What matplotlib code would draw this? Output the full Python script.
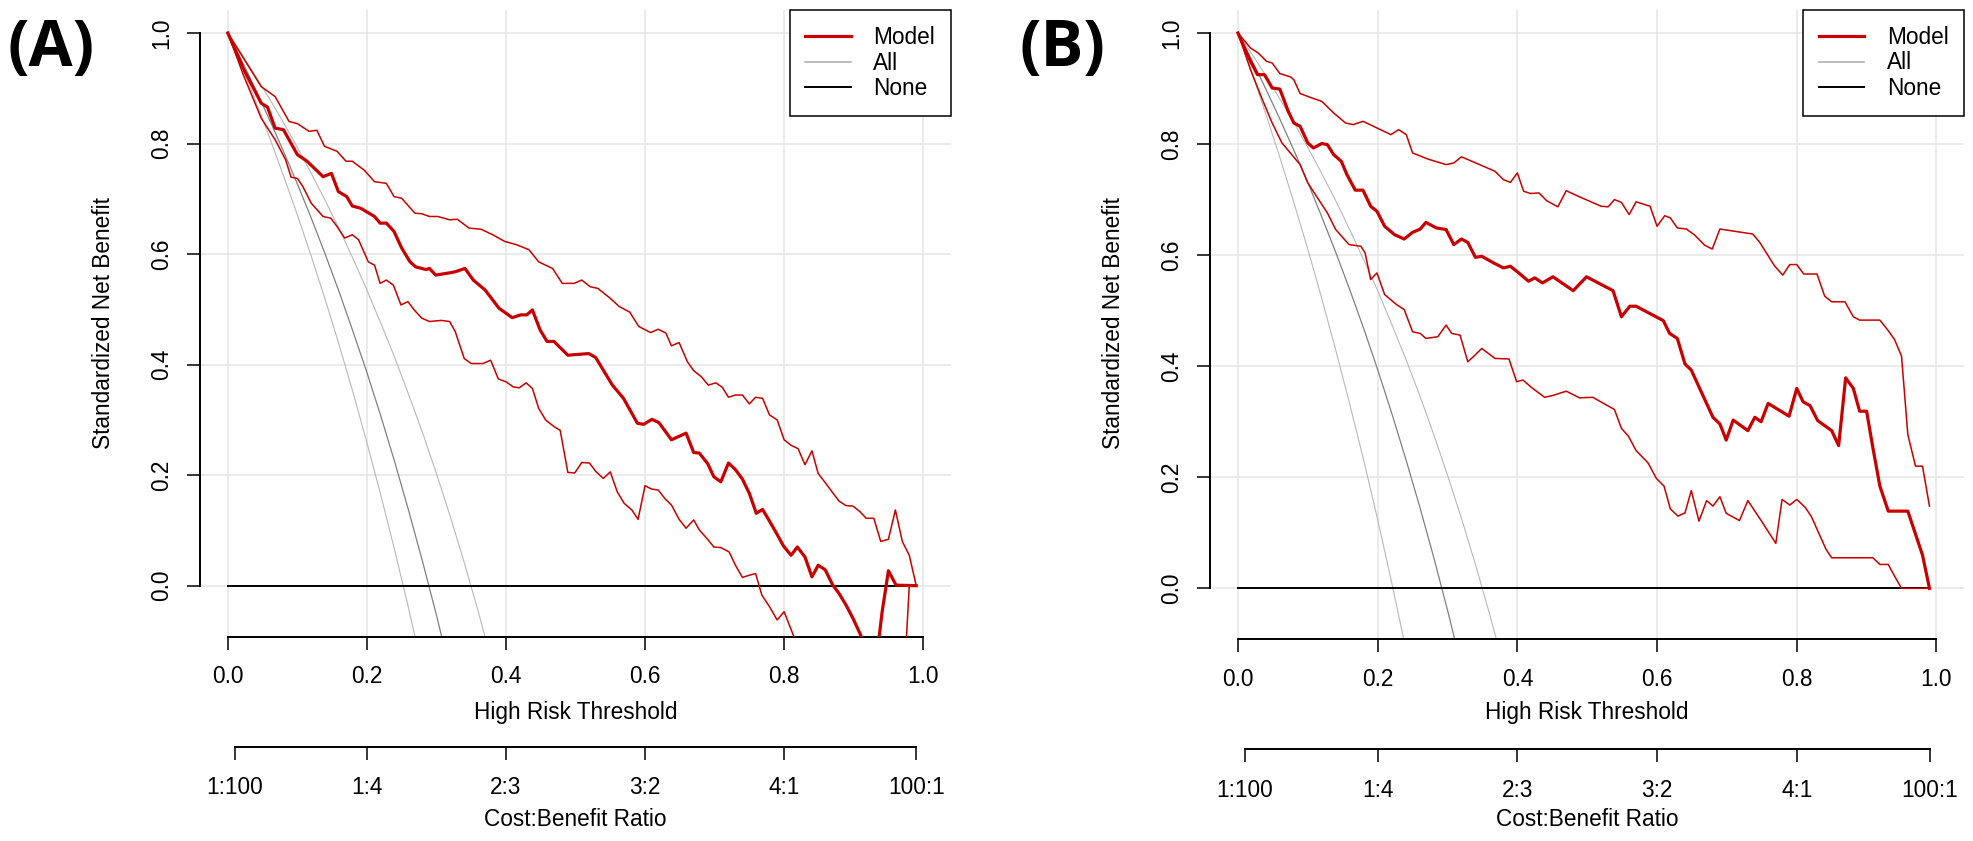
import matplotlib
matplotlib.use("Agg")
import matplotlib.pyplot as plt
from matplotlib.lines import Line2D

plt.rcParams['font.family'] = ['Liberation Sans', 'DejaVu Sans']

# ---------------- data ----------------
# Panel A
a_model_t = [0, 0.023, 0.048, 0.057, 0.068, 0.080, 0.100, 0.114, 0.137, 0.149, 0.159, 0.171, 0.179, 0.191,
             0.211, 0.219, 0.228, 0.239, 0.250, 0.262, 0.270, 0.285, 0.290, 0.299, 0.319, 0.327, 0.341, 0.353,
             0.370, 0.390, 0.409, 0.421, 0.430, 0.438, 0.449, 0.459, 0.469, 0.489, 0.519, 0.529, 0.553, 0.569,
             0.589, 0.598, 0.610, 0.620, 0.638, 0.659, 0.670, 0.678, 0.690, 0.699, 0.709, 0.720, 0.730, 0.740,
             0.750, 0.760, 0.769, 0.778, 0.789, 0.799, 0.810, 0.819, 0.830, 0.840, 0.849, 0.859, 0.870, 0.879,
             0.889, 0.899, 0.910, 0.920, 0.930, 0.937, 0.941, 0.950, 0.961, 0.990]
a_model_v = [1.0, 0.934, 0.873, 0.866, 0.828, 0.825, 0.780, 0.768, 0.740, 0.746, 0.713, 0.704, 0.687, 0.683,
             0.668, 0.656, 0.656, 0.641, 0.611, 0.586, 0.577, 0.572, 0.574, 0.562, 0.566, 0.568, 0.574, 0.553,
             0.535, 0.502, 0.485, 0.490, 0.490, 0.499, 0.463, 0.442, 0.442, 0.417, 0.420, 0.413, 0.363, 0.339,
             0.294, 0.292, 0.301, 0.295, 0.264, 0.276, 0.241, 0.240, 0.221, 0.197, 0.188, 0.222, 0.210, 0.193,
             0.167, 0.131, 0.138, 0.119, 0.095, 0.072, 0.055, 0.070, 0.052, 0.016, 0.037, 0.029, 0.001, -0.014,
             -0.035, -0.059, -0.089, -0.130, -0.120, -0.089, -0.047, 0.027, 0.001, 0.0]

a_upper_t = [0, 0.048, 0.068, 0.088, 0.100, 0.117, 0.128, 0.139, 0.157, 0.170, 0.179, 0.196, 0.211, 0.228,
             0.239, 0.250, 0.269, 0.279, 0.290, 0.302, 0.319, 0.330, 0.347, 0.364, 0.381, 0.398, 0.415, 0.433,
             0.447, 0.467, 0.481, 0.498, 0.509, 0.521, 0.532, 0.549, 0.563, 0.578, 0.591, 0.608, 0.619, 0.630,
             0.638, 0.649, 0.661, 0.670, 0.681, 0.691, 0.702, 0.711, 0.720, 0.730, 0.740, 0.750, 0.759, 0.769,
             0.779, 0.790, 0.800, 0.810, 0.820, 0.830, 0.840, 0.849, 0.860, 0.870, 0.879, 0.889, 0.899, 0.909,
             0.918, 0.929, 0.939, 0.950, 0.960, 0.970, 0.980, 0.990]
a_upper_v = [1.0, 0.903, 0.885, 0.840, 0.836, 0.822, 0.824, 0.795, 0.786, 0.768, 0.768, 0.752, 0.731, 0.728,
             0.704, 0.701, 0.674, 0.673, 0.668, 0.668, 0.662, 0.663, 0.647, 0.645, 0.635, 0.623, 0.617, 0.608,
             0.586, 0.574, 0.547, 0.547, 0.553, 0.541, 0.538, 0.521, 0.505, 0.495, 0.469, 0.458, 0.464, 0.457,
             0.434, 0.440, 0.405, 0.389, 0.378, 0.363, 0.367, 0.359, 0.341, 0.345, 0.345, 0.329, 0.341, 0.339,
             0.309, 0.300, 0.264, 0.254, 0.248, 0.219, 0.244, 0.203, 0.185, 0.168, 0.153, 0.145, 0.144, 0.134,
             0.122, 0.122, 0.080, 0.084, 0.137, 0.080, 0.055, 0.0]

a_lower_t = [0, 0.023, 0.048, 0.068, 0.083, 0.091, 0.100, 0.108, 0.120, 0.137, 0.148, 0.157, 0.168, 0.179,
             0.188, 0.202, 0.211, 0.219, 0.228, 0.238, 0.249, 0.259, 0.268, 0.279, 0.290, 0.307, 0.319, 0.327,
             0.340, 0.350, 0.367, 0.378, 0.389, 0.400, 0.410, 0.419, 0.429, 0.438, 0.447, 0.457, 0.469, 0.478,
             0.489, 0.499, 0.509, 0.520, 0.529, 0.540, 0.550, 0.560, 0.570, 0.581, 0.590, 0.600, 0.609, 0.619,
             0.629, 0.638, 0.649, 0.659, 0.670, 0.678, 0.690, 0.699, 0.709, 0.721, 0.730, 0.740, 0.750, 0.759,
             0.768, 0.779, 0.790, 0.800, 0.814, 0.830, 0.850, 0.900, 0.950, 0.976, 0.980, 0.990]
a_lower_v = [1.0, 0.922, 0.846, 0.807, 0.771, 0.739, 0.737, 0.722, 0.692, 0.668, 0.665, 0.650, 0.629, 0.635,
             0.626, 0.586, 0.580, 0.547, 0.553, 0.544, 0.508, 0.514, 0.499, 0.484, 0.478, 0.480, 0.478, 0.460,
             0.411, 0.402, 0.402, 0.408, 0.374, 0.369, 0.360, 0.358, 0.367, 0.357, 0.321, 0.300, 0.288, 0.281,
             0.205, 0.204, 0.223, 0.222, 0.207, 0.194, 0.206, 0.170, 0.149, 0.137, 0.120, 0.181, 0.175, 0.173,
             0.157, 0.146, 0.120, 0.104, 0.119, 0.101, 0.084, 0.070, 0.069, 0.061, 0.037, 0.015, 0.019, 0.022,
             -0.017, -0.038, -0.062, -0.047, -0.092, -0.130, -0.170, -0.220, -0.200, -0.092, 0.0, 0.0]

all_t = [0, 0.02, 0.04, 0.06, 0.08, 0.10, 0.12, 0.14, 0.16, 0.18, 0.20, 0.22, 0.24, 0.26, 0.28, 0.30,
         0.32, 0.34, 0.36, 0.38]
a_all_v = [1.0, 0.950, 0.898, 0.843, 0.786, 0.727, 0.665, 0.600, 0.532, 0.460, 0.386, 0.307, 0.224,
           0.136, 0.044, -0.053, -0.157, -0.27, -0.38, -0.51]
a_all_lo_v = [1.0, 0.940, 0.877, 0.811, 0.742, 0.671, 0.596, 0.518, 0.436, 0.350, 0.259, 0.164, 0.064,
              -0.041, -0.152, -0.27, -0.39, -0.53, -0.67, -0.82]
a_all_hi_v = [1.0, 0.962, 0.922, 0.881, 0.838, 0.793, 0.746, 0.697, 0.646, 0.592, 0.535, 0.475, 0.413,
              0.346, 0.277, 0.203, 0.125, 0.042, -0.046, -0.140]

# Panel B
b_model_t = [0, 0.018, 0.028, 0.038, 0.049, 0.060, 0.072, 0.080, 0.089, 0.100, 0.108, 0.120, 0.128, 0.137,
             0.148, 0.156, 0.168, 0.179, 0.190, 0.199, 0.210, 0.224, 0.238, 0.250, 0.261, 0.269, 0.284, 0.298,
             0.309, 0.320, 0.329, 0.340, 0.349, 0.366, 0.380, 0.390, 0.402, 0.416, 0.425, 0.436, 0.451, 0.480,
             0.499, 0.537, 0.549, 0.561, 0.570, 0.609, 0.618, 0.629, 0.640, 0.649, 0.680, 0.690, 0.699, 0.709,
             0.730, 0.740, 0.749, 0.759, 0.789, 0.800, 0.809, 0.819, 0.830, 0.850, 0.860, 0.870, 0.881, 0.890,
             0.900, 0.909, 0.919, 0.931, 0.959, 0.980, 0.990]
b_model_v = [1.0, 0.949, 0.925, 0.925, 0.901, 0.899, 0.859, 0.838, 0.832, 0.802, 0.793, 0.801, 0.799, 0.781,
             0.769, 0.745, 0.717, 0.717, 0.688, 0.679, 0.652, 0.637, 0.629, 0.641, 0.647, 0.659, 0.649, 0.646,
             0.619, 0.629, 0.623, 0.596, 0.598, 0.586, 0.577, 0.580, 0.568, 0.553, 0.559, 0.550, 0.561, 0.536,
             0.561, 0.536, 0.489, 0.508, 0.508, 0.482, 0.459, 0.450, 0.404, 0.393, 0.308, 0.296, 0.267, 0.303,
             0.284, 0.308, 0.300, 0.333, 0.310, 0.360, 0.336, 0.329, 0.302, 0.284, 0.257, 0.379, 0.360, 0.319,
             0.319, 0.253, 0.184, 0.139, 0.139, 0.060, 0.0]

b_upper_t = [0, 0.018, 0.029, 0.041, 0.049, 0.060, 0.075, 0.080, 0.089, 0.106, 0.120, 0.137, 0.154, 0.165,
             0.179, 0.199, 0.219, 0.230, 0.241, 0.250, 0.272, 0.298, 0.309, 0.320, 0.346, 0.368, 0.380, 0.390,
             0.400, 0.409, 0.419, 0.431, 0.442, 0.458, 0.470, 0.489, 0.520, 0.530, 0.539, 0.549, 0.560, 0.570,
             0.590, 0.600, 0.611, 0.619, 0.629, 0.642, 0.654, 0.668, 0.679, 0.690, 0.737, 0.747, 0.768, 0.780,
             0.790, 0.800, 0.810, 0.829, 0.840, 0.850, 0.869, 0.881, 0.890, 0.919, 0.931, 0.940, 0.950, 0.959,
             0.970, 0.980, 0.990]
b_upper_v = [1.0, 0.973, 0.964, 0.949, 0.946, 0.927, 0.921, 0.916, 0.891, 0.883, 0.877, 0.856, 0.838, 0.835,
             0.841, 0.829, 0.817, 0.826, 0.817, 0.784, 0.773, 0.763, 0.766, 0.777, 0.763, 0.751, 0.736, 0.731,
             0.748, 0.715, 0.711, 0.712, 0.698, 0.687, 0.716, 0.705, 0.688, 0.687, 0.700, 0.695, 0.673, 0.696,
             0.688, 0.652, 0.671, 0.667, 0.649, 0.647, 0.636, 0.618, 0.611, 0.647, 0.638, 0.623, 0.581, 0.564,
             0.583, 0.583, 0.566, 0.566, 0.526, 0.516, 0.516, 0.489, 0.483, 0.483, 0.464, 0.448, 0.418, 0.277,
             0.220, 0.220, 0.148]

b_lower_t = [0, 0.018, 0.035, 0.049, 0.063, 0.077, 0.089, 0.100, 0.114, 0.128, 0.140, 0.159, 0.176, 0.182,
             0.190, 0.199, 0.210, 0.227, 0.238, 0.250, 0.261, 0.269, 0.286, 0.298, 0.306, 0.318, 0.329, 0.337,
             0.349, 0.368, 0.388, 0.399, 0.408, 0.422, 0.439, 0.450, 0.470, 0.489, 0.508, 0.539, 0.549, 0.559,
             0.570, 0.587, 0.599, 0.610, 0.619, 0.630, 0.640, 0.649, 0.660, 0.671, 0.680, 0.690, 0.699, 0.718,
             0.730, 0.749, 0.770, 0.779, 0.790, 0.800, 0.812, 0.821, 0.832, 0.842, 0.850, 0.909, 0.919, 0.931,
             0.940, 0.950, 0.990]
b_lower_v = [1.0, 0.934, 0.880, 0.838, 0.802, 0.781, 0.763, 0.730, 0.703, 0.676, 0.646, 0.619, 0.616, 0.604,
             0.556, 0.568, 0.529, 0.511, 0.502, 0.462, 0.459, 0.450, 0.453, 0.474, 0.459, 0.456, 0.408, 0.417,
             0.432, 0.414, 0.413, 0.372, 0.375, 0.360, 0.344, 0.347, 0.355, 0.343, 0.344, 0.322, 0.288, 0.274,
             0.248, 0.226, 0.198, 0.184, 0.143, 0.130, 0.136, 0.176, 0.121, 0.158, 0.148, 0.165, 0.135, 0.122,
             0.158, 0.122, 0.081, 0.160, 0.150, 0.160, 0.146, 0.129, 0.098, 0.070, 0.055, 0.055, 0.043, 0.043,
             0.022, 0.0, 0.0]

b_all_v = [1.0, 0.951, 0.899, 0.845, 0.789, 0.731, 0.669, 0.605, 0.538, 0.468, 0.394, 0.316, 0.234,
           0.148, 0.057, -0.039, -0.141, -0.25, -0.36, -0.49]
b_all_lo_v = [1.0, 0.928, 0.854, 0.776, 0.695, 0.611, 0.522, 0.429, 0.332, 0.231, 0.124, 0.011, -0.107,
              -0.23, -0.36, -0.50, -0.65, -0.80, -0.97, -1.15]
b_all_hi_v = [1.0, 0.962, 0.923, 0.881, 0.839, 0.794, 0.747, 0.698, 0.646, 0.592, 0.536, 0.476, 0.414,
              0.348, 0.278, 0.204, 0.126, 0.043, -0.045, -0.138]

none_t = [0.0, 0.99]
none_v = [0.0, 0.0]

x_ticks = [0.0, 0.2, 0.4, 0.6, 0.8, 1.0]
x_ticklabels = ["0.0", "0.2", "0.4", "0.6", "0.8", "1.0"]
y_ticks = [0.0, 0.2, 0.4, 0.6, 0.8, 1.0]
y_ticklabels = ["0.0", "0.2", "0.4", "0.6", "0.8", "1.0"]
cb_ticks = [1 / 101, 0.2, 0.4, 0.6, 0.8, 100 / 101]
cb_labels = ["1:100", "1:4", "2:3", "3:2", "4:1", "100:1"]
legend_labels = ["Model", "All", "None"]
panel_labels = ["(A)", "(B)"]

# ---------------- styling ----------------
W, H = 1974, 841
RED = '#C80000'
GRID = '#E5E5E5'
FS = 16.3

fig = plt.figure(figsize=(W / 100, H / 100), dpi=100)


def rect(left, right, top, bottom):
    return [left / W, 1 - bottom / H, (right - left) / W, (bottom - top) / H]


panels = [
    dict(rect=rect(200, 951, 10, 637), ylim=(-0.0928, 1.0416), label_x=8, ylab_x=104, xc=575.5,
         model=(a_model_t, a_model_v), upper=(a_upper_t, a_upper_v), lower=(a_lower_t, a_lower_v),
         allc=a_all_v, alllo=a_all_lo_v, allhi=a_all_hi_v),
    dict(rect=rect(1210, 1964.4, 9.9, 639.3), ylim=(-0.0918, 1.0416), label_x=1019, ylab_x=1114, xc=1587,
         model=(b_model_t, b_model_v), upper=(b_upper_t, b_upper_v), lower=(b_lower_t, b_lower_v),
         allc=b_all_v, alllo=b_all_lo_v, allhi=b_all_hi_v),
]

for i, p in enumerate(panels):
    ax = fig.add_axes(p['rect'])
    ax.set_xlim(-0.04, 1.04)
    ax.set_ylim(*p['ylim'])
    # grid
    for g in x_ticks:
        ax.axvline(g, color=GRID, lw=1.1, zorder=0)
    for g in y_ticks:
        ax.axhline(g, color=GRID, lw=1.1, zorder=0)
    # All curves
    ax.plot(all_t, p['alllo'], color='#b8b8b8', lw=0.8, zorder=2)
    ax.plot(all_t, p['allhi'], color='#b8b8b8', lw=0.8, zorder=2)
    ax.plot(all_t, p['allc'], color='#808080', lw=0.9, zorder=2)
    # None
    ax.plot(none_t, none_v, color='black', lw=1.4, zorder=3)
    # model and CI
    ax.plot(*p['upper'], color=RED, lw=1.1, zorder=4)
    ax.plot(*p['lower'], color=RED, lw=1.1, zorder=4)
    ax.plot(*p['model'], color=RED, lw=2.3, zorder=5)

    for s in ['top', 'right']:
        ax.spines[s].set_visible(False)
    ax.spines['left'].set_bounds(0, 1)
    ax.spines['bottom'].set_bounds(0, 1)
    for s in ['left', 'bottom']:
        ax.spines[s].set_linewidth(1.4)
    ax.set_xticks(x_ticks)
    ax.set_xticklabels(x_ticklabels)
    ax.set_yticks(y_ticks)
    ax.set_yticklabels(y_ticklabels)
    ax.tick_params(axis='both', direction='out', length=9.4, width=1.1, labelsize=FS)
    ax.tick_params(axis='x', pad=11.0)
    ax.tick_params(axis='y', pad=10.0, labelrotation=90)
    for lab in ax.get_yticklabels():
        lab.set_verticalalignment('center')

    sec = ax.secondary_xaxis(-0.175)
    sec.set_xticks(cb_ticks)
    sec.set_xticklabels(cb_labels)
    sec.spines['bottom'].set_bounds(cb_ticks[0], cb_ticks[-1])
    sec.spines['bottom'].set_linewidth(1.4)
    sec.tick_params(axis='x', direction='out', length=9.4, width=1.1, labelsize=FS, pad=12.0)

    handles = [Line2D([], [], color=RED, lw=2.3),
               Line2D([], [], color='#aaaaaa', lw=1.1),
               Line2D([], [], color='black', lw=1.4)]
    leg = ax.legend(handles, legend_labels, loc='upper right', bbox_to_anchor=(1.0, 1.0),
                    borderaxespad=0, fancybox=False, framealpha=1, edgecolor='black',
                    fontsize=FS, handlelength=2.0, handletextpad=1.0, labelspacing=0.12,
                    borderpad=0.7)
    leg.get_frame().set_linewidth(1.1)
    leg.set_zorder(10)

    fig.text(p['xc'] / W, 1 - 712 / H, "High Risk Threshold", ha='center', va='center', fontsize=FS)
    fig.text(p['xc'] / W, 1 - 820 / H, "Cost:Benefit Ratio", ha='center', va='center', fontsize=FS)
    fig.text(p['ylab_x'] / W, 1 - 323 / H, "Standardized Net Benefit", ha='center', va='center',
             rotation=90, fontsize=FS)
    fig.text(p['label_x'] / W, 1 - 49 / H, panel_labels[i], ha='left', va='center', fontsize=46,
             fontweight='bold', family=['Open Sans', 'Liberation Sans'])

fig.savefig('out.png', dpi=100)
